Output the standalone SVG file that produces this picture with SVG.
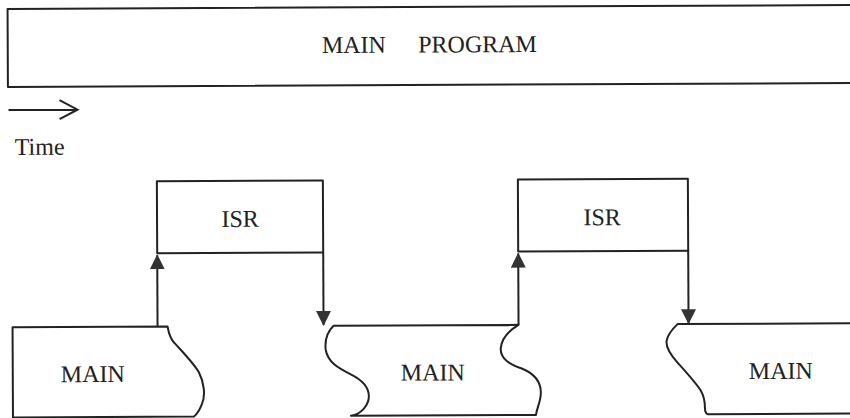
<svg xmlns="http://www.w3.org/2000/svg" width="850" height="418" viewBox="0 0 850 418">
  <style>
    .box { fill: #fff; stroke: #222; stroke-width: 2; stroke-linejoin: round; }
    .lbl { font-family: "Liberation Serif", "Times New Roman", serif; font-size: 24px; fill: #222; }
    .conn { fill: none; stroke: #222; stroke-width: 2; }
  </style>
  <defs>
    <marker id="tri" viewBox="0 0 16 16" refX="15" refY="8" markerWidth="15" markerHeight="15" markerUnits="userSpaceOnUse" orient="auto">
      <path d="M0,0 L16,8 L0,16 Z" fill="#333"/>
    </marker>
  </defs>
  <rect width="850" height="418" fill="#fff"/>
  <g transform="rotate(-0.27 425 209)">
    <!-- main program bar (open at the right edge) -->
    <g id="main-program">
      <path class="box" d="M856,7 H8.5 V85 H856"/>
      <text class="lbl" x="322.7" y="52.5">MAIN <tspan x="419">PROGRAM</tspan></text>
    </g>

    <!-- time axis -->
    <g id="time">
      <path class="conn" stroke-width="1.6" d="M9,108 H78 M60,98.5 L78,108 L60,117.5"/>
      <text class="lbl" x="15" y="153">Time</text>
    </g>

    <!-- interrupt service routines -->
    <g id="isr-1">
      <rect class="box" x="157" y="180" width="166" height="72"/>
      <text class="lbl" x="240" y="226" text-anchor="middle">ISR</text>
    </g>
    <g id="isr-2">
      <rect class="box" x="518" y="180" width="170" height="72"/>
      <text class="lbl" x="602" y="226" text-anchor="middle">ISR</text>
    </g>

    <!-- main program segments between interrupts -->
    <g id="main-1">
      <path class="box" d="M12,325.3 H167 C168,331 169,337 174,342 C182,351 192,361 198,371 C203,381 205,394 201,403 C199,408 196,413 193,415.5 H12 Z"/>
      <text class="lbl" x="60" y="380.5">MAIN</text>
    </g>
    <g id="main-2">
      <path class="box" d="M333,325.3 H518 C510,330 501,338 500,349 C500,360 510,365 521,369 C533,374 540,382 540,393 C540,402 536,408 535,415.5 H350 C360,414 368,405 368,396 C368,386 360,379 350,374 C338,368 327,362 325,349 C324,338 328,330 333,325.3 Z"/>
      <text class="lbl" x="400" y="380.5">MAIN</text>
    </g>
    <g id="main-3">
      <path class="box" d="M856,325.3 H677 C672,330 667,336 666,342 C665,348 670,356 677,364 C685,373 695,384 700,392 C704,399 704,404 704,409 C704,413 705,415 707,415.5 H856"/>
      <text class="lbl" x="748" y="380.5">MAIN</text>
    </g>

    <!-- interrupt entry / return connectors -->
    <g id="connectors">
      <path class="conn" d="M157,325.3 V254" marker-end="url(#tri)"/>
      <path class="conn" d="M323,252 V324.5" marker-end="url(#tri)"/>
      <path class="conn" d="M518,325.3 V254" marker-end="url(#tri)"/>
      <path class="conn" d="M688,252 V324.5" marker-end="url(#tri)"/>
    </g>
  </g>
</svg>
